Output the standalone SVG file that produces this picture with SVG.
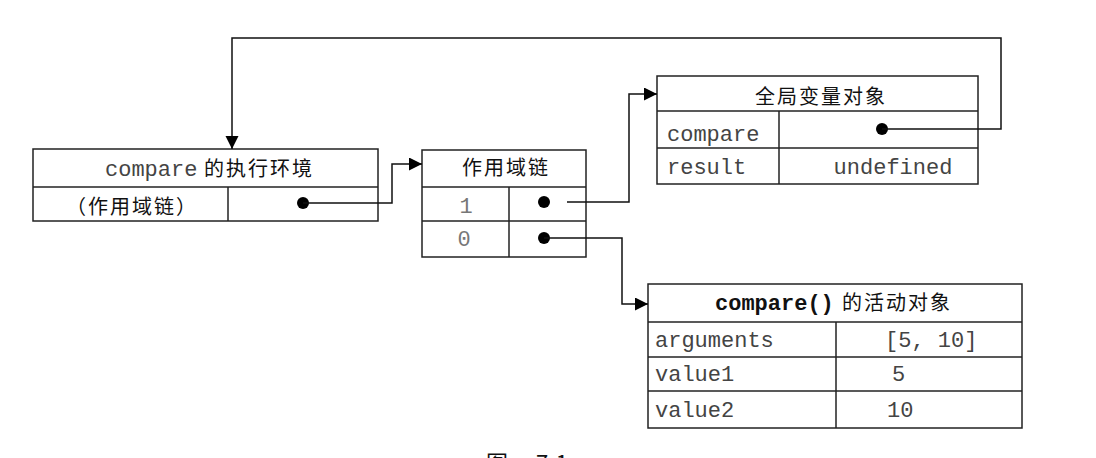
<svg xmlns="http://www.w3.org/2000/svg" width="1096" height="458" viewBox="0 0 1096 458">
<style>
.box{fill:#fff;stroke:#222;stroke-width:1.5}
.ln{stroke:#222;stroke-width:1.5}
.mono{font-family:"Liberation Mono","DejaVu Sans Mono",monospace;font-size:22px;fill:#444}
.mono.b{font-weight:bold;fill:#111}
.lite{fill:#777}
.cjk{font-family:"Noto Sans CJK SC","Noto Sans CJK TC",sans-serif;font-size:20px;letter-spacing:2px;fill:#111}
.wire{fill:none;stroke:#111;stroke-width:1.5}
.dot{fill:#000}
.mid{text-anchor:middle}
</style>
<defs>
<marker id="arr" markerUnits="userSpaceOnUse" markerWidth="14" markerHeight="14" refX="13" refY="6.5" orient="auto">
<path d="M0,0 L13,6.5 L0,13 Z" fill="#000"/>
</marker>
</defs>
<rect width="1096" height="458" fill="#fff"/>

<g id="exec-context">
<rect class="box" x="33" y="149" width="345" height="72"/>
<line class="ln" x1="33" y1="187" x2="378" y2="187"/>
<line class="ln" x1="228" y1="187" x2="228" y2="221"/>
<text y="176"><tspan class="mono" x="105">compare</tspan><tspan class="cjk" x="204">的执行环境</tspan></text>
<text class="cjk" x="66" y="214">（作用域链）</text>
</g>

<g id="scope-chain">
<rect class="box" x="422" y="150" width="164" height="107"/>
<line class="ln" x1="422" y1="187" x2="586" y2="187"/>
<line class="ln" x1="422" y1="221" x2="586" y2="221"/>
<line class="ln" x1="509" y1="187" x2="509" y2="257"/>
<text class="cjk mid" x="506" y="175">作用域链</text>
<text class="mono lite mid" x="466" y="213">1</text>
<text class="mono lite mid" x="464" y="246">0</text>
</g>

<g id="global-vo">
<rect class="box" x="657" y="76" width="321" height="108"/>
<line class="ln" x1="657" y1="111" x2="978" y2="111"/>
<line class="ln" x1="657" y1="148" x2="978" y2="148"/>
<line class="ln" x1="779" y1="111" x2="779" y2="184"/>
<text class="cjk mid" x="821" y="104">全局变量对象</text>
<text class="mono" x="667" y="141">compare</text>
<text class="mono" x="667" y="174">result</text>
<text class="mono mid" x="893" y="174">undefined</text>
</g>

<g id="activation-object">
<rect class="box" x="648" y="284" width="374" height="144"/>
<line class="ln" x1="648" y1="322" x2="1022" y2="322"/>
<line class="ln" x1="648" y1="357" x2="1022" y2="357"/>
<line class="ln" x1="648" y1="391" x2="1022" y2="391"/>
<line class="ln" x1="836" y1="322" x2="836" y2="428"/>
<text y="310"><tspan class="mono b" x="715">compare()</tspan><tspan class="cjk" x="842">的活动对象</tspan></text>
<text class="mono" x="655" y="347">arguments</text>
<text class="mono" x="885" y="347">[5, 10]</text>
<text class="mono" x="655" y="381">value1</text>
<text class="mono" x="892" y="381">5</text>
<text class="mono" x="655" y="417">value2</text>
<text class="mono" x="887" y="417">10</text>
</g>

<g id="connectors">
<circle class="dot" cx="303" cy="203" r="6"/>
<path class="wire" d="M303,203 H392 V164 H422" marker-end="url(#arr)"/>
<circle class="dot" cx="544" cy="202" r="6"/>
<path class="wire" d="M567,202 H629 V94 H657" marker-end="url(#arr)"/>
<circle class="dot" cx="544" cy="238" r="6"/>
<path class="wire" d="M544,238 H622 V304 H648" marker-end="url(#arr)"/>
<circle class="dot" cx="882" cy="129" r="6"/>
<path class="wire" d="M882,129 H1001 V38 H232 V149" marker-end="url(#arr)"/>
</g>

<g id="caption">
<text class="cjk" x="486" y="471" style="font-size:22px;letter-spacing:0">图 <tspan x="536">7-1</tspan></text>
</g>
</svg>
